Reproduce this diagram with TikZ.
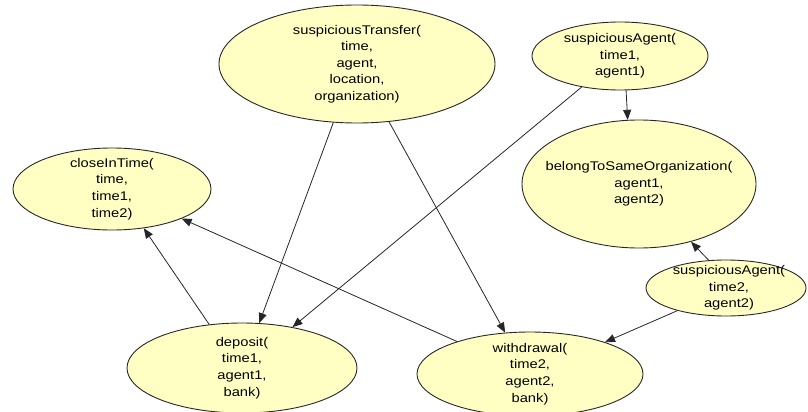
\documentclass[tikz,border=0pt]{standalone}
\usepackage{fontspec}
\setmainfont[FakeStretch=1.17]{Liberation Sans}
\usetikzlibrary{shapes.geometric,arrows.meta}
\definecolor{nodefill}{RGB}{255,255,196}
\definecolor{nodeline}{RGB}{40,40,40}
\tikzset{
  pred/.style={ellipse, draw=nodeline, fill=nodefill, line width=0.9pt, inner sep=0pt},
  predtext/.style={align=center, inner sep=0pt, font=\fontsize{12.6}{16.6}\selectfont},
  link/.style={draw=black!85, line width=0.8pt, -{Triangle[length=10pt,width=8pt]}}
}
\begin{document}
\begin{tikzpicture}[x=1pt, y=-1pt]
\useasboundingbox (0,0) rectangle (808,412);

% predicate nodes
\node[pred, minimum width=276pt, minimum height=118pt,
  label={[predtext]center:suspiciousTransfer(\\time,\\agent,\\location,\\organization)}] (st) at (357,64) {};
\node[pred, minimum width=176pt, minimum height=68pt,
  label={[predtext]center:suspiciousAgent(\\time1,\\agent1)}] (sa1) at (620,56) {};
\node[pred, minimum width=234pt, minimum height=128pt,
  label={[predtext]center:belongToSameOrganization(\\agent1,\\agent2)}] (bso) at (639,184) {};
\node[pred, minimum width=198pt, minimum height=82pt,
  label={[predtext]center:closeInTime(\\time,\\time1,\\time2)}] (cit) at (112,189) {};
\node[pred, minimum width=230pt, minimum height=90pt,
  label={[predtext]center:deposit(\\time1,\\agent1,\\bank)}] (dep) at (242,368) {};
\node[pred, minimum width=226pt, minimum height=84pt,
  label={[predtext]center:withdrawal(\\time2,\\agent2,\\bank)}] (wd) at (530,374) {};
\node[pred, minimum width=160pt, minimum height=56pt,
  label={[predtext, xshift=3pt]center:suspiciousAgent(\\time2,\\agent2)}] (sa2) at (726,288) {};

% dependencies
\draw[link] (st.-112) -- (dep.69);
\draw[link] (st.-61) -- (wd.121);
\draw[link] (sa1.-141) -- (dep.39);
\draw[link] (sa1.-80) -- (bso.100);
\draw[link] (sa2.122) -- (bso.-48);
\draw[link] (sa2.-155) -- (wd.23);
\draw[link] (dep.127) -- (cit.-51);
\draw[link] (wd.156) -- (cit.-23);
\end{tikzpicture}
\end{document}
